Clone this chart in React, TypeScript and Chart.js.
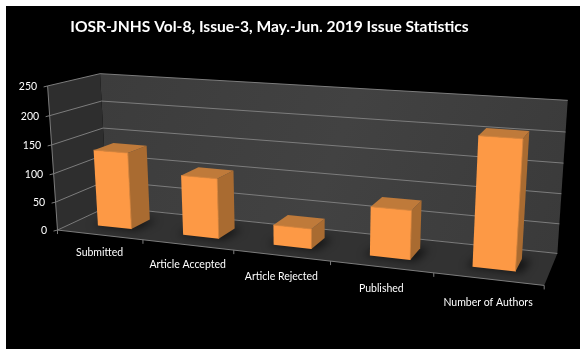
import React, { useEffect, useRef } from "react";
import { Chart, registerables } from "chart.js";

Chart.register(...registerables);

const categories = ["Submitted", "Article Accepted", "Article Rejected", "Published", "Number of Authors"];
const issueCounts = [135, 104, 34, 81, 207];
const titleText = "IOSR-JNHS Vol-8, Issue-3, May.-Jun. 2019 Issue Statistics";
const yMax = 250;
const yStep = 50;

// Camera calibration: box corner (across, up, depth) -> page pixel.
const boxCorners: number[][] = [
  [0, 0, 0, 57.3, 228],
  [1, 0, 0, 544.3, 287],
  [0, 1, 0, 47.7, 86.7],
  [0, 0, 1, 107.5, 209],
  [0, 1, 1, 100, 72.7],
  [1, 0, 1, 557.3, 251.7],
  [1, 1, 1, 567.7, 100.7],
];
const BAR_FRONT = 0.3;
const BAR_BACK = 0.7;

function solveCamera(pts: number[][]): number[] {
  const rows: number[][] = [];
  const rhs: number[] = [];
  for (const [u, v, w, px, py] of pts) {
    const x = px / 500;
    const y = py / 500;
    rows.push([u, v, w, 1, 0, 0, 0, 0, -x * u, -x * v, -x * w]);
    rhs.push(x);
    rows.push([0, 0, 0, 0, u, v, w, 1, -y * u, -y * v, -y * w]);
    rhs.push(y);
  }
  const n = 11;
  const A: number[][] = [];
  for (let i = 0; i < n; i++) {
    const row = new Array(n + 1).fill(0);
    for (let k = 0; k < rows.length; k++) {
      for (let j = 0; j < n; j++) row[j] += rows[k][i] * rows[k][j];
      row[n] += rows[k][i] * rhs[k];
    }
    row[i] += 1e-9;
    A.push(row);
  }
  for (let c = 0; c < n; c++) {
    let p = c;
    for (let r = c + 1; r < n; r++) if (Math.abs(A[r][c]) > Math.abs(A[p][c])) p = r;
    [A[c], A[p]] = [A[p], A[c]];
    for (let r = 0; r < n; r++) {
      if (r === c) continue;
      const f = A[r][c] / A[c][c];
      for (let j = c; j <= n; j++) A[r][j] -= f * A[c][j];
    }
  }
  return A.map((row, i) => row[n] / row[i]);
}

const cam = solveCamera(boxCorners);
function proj(u: number, v: number, w: number): [number, number] {
  const d = cam[8] * u + cam[9] * v + cam[10] * w + 1;
  return [
    (500 * (cam[0] * u + cam[1] * v + cam[2] * w + cam[3])) / d,
    (500 * (cam[4] * u + cam[5] * v + cam[6] * w + cam[7])) / d,
  ];
}

function quad(ctx: CanvasRenderingContext2D, pts: [number, number][], fill: string | CanvasGradient) {
  ctx.beginPath();
  pts.forEach((p, i) => (i ? ctx.lineTo(p[0], p[1]) : ctx.moveTo(p[0], p[1])));
  ctx.closePath();
  ctx.fillStyle = fill;
  ctx.fill();
}
function seg(ctx: CanvasRenderingContext2D, a: [number, number], b: [number, number]) {
  ctx.beginPath();
  ctx.moveTo(a[0], a[1]);
  ctx.lineTo(b[0], b[1]);
  ctx.stroke();
}

const box3d = {
  id: "box3d",
  beforeDraw(chart: any) {
    const { ctx, width, height } = chart;
    ctx.save();
    ctx.fillStyle = "#ffffff";
    ctx.fillRect(0, 0, width, height);
    ctx.fillStyle = "#000000";
    ctx.fillRect(6, 6, 574, 343);
    ctx.restore();
  },
  beforeDatasetDraw: () => false,
  afterDatasetsDraw(chart: any) {
    const { ctx, chartArea: area, scales } = chart;
    const toU = (px: number) => (px - area.left) / (area.right - area.left);
    const toV = (py: number) => (area.bottom - py) / (area.bottom - area.top);
    const yS = scales.y;
    const xS = scales.x;
    ctx.save();

    // walls and floor
    const back = ctx.createLinearGradient(100, 80, 560, 250);
    back.addColorStop(0, "#3c3c3c");
    back.addColorStop(0.5, "#424242");
    back.addColorStop(1, "#3a3a3a");
    quad(ctx, [proj(0, 0, 1), proj(0, 1, 1), proj(1, 1, 1), proj(1, 0, 1)], back);
    quad(ctx, [proj(0, 0, 0), proj(0, 1, 0), proj(0, 1, 1), proj(0, 0, 1)], "#2e2e2e");
    quad(ctx, [proj(0, 0, 0), proj(1, 0, 0), proj(1, 0, 1), proj(0, 0, 1)], "#323232");

    // gridlines and value labels from the y scale
    ctx.strokeStyle = "#7c7c7c";
    ctx.lineWidth = 1;
    ctx.font = "10.5px Lato";
    ctx.fillStyle = "#ffffff";
    ctx.textAlign = "right";
    ctx.textBaseline = "middle";
    for (const t of yS.ticks) {
      const v = toV(yS.getPixelForValue(t.value));
      const a = proj(0, v, 0);
      seg(ctx, [a[0] - 4, a[1] + 1], a);
      seg(ctx, a, proj(0, v, 1));
      seg(ctx, proj(0, v, 1), proj(1, v, 1));
      ctx.fillText(String(t.value), a[0] - 10.5, a[1] + 0.5);
    }
    seg(ctx, proj(0, 0, 0), proj(0, 1, 0));
    seg(ctx, proj(0, 0, 0), proj(1, 0, 0));

    // category ticks and labels from the x scale
    ctx.textAlign = "center";
    const n = categories.length;
    for (let i = 0; i <= n; i++) {
      const p = proj(i / n, 0, 0);
      seg(ctx, p, [p[0], p[1] + 4]);
    }
    categories.forEach((label, i) => {
      const p = proj(toU(xS.getPixelForValue(i)), 0, 0);
      ctx.fillText(label, p[0], p[1] + 18 + 1.3 * i);
    });

    // bars from the dataset's own elements
    const els = chart.getDatasetMeta(0).data;
    const floor = new Path2D();
    const f0 = proj(0, 0, 0), f1 = proj(1, 0, 0), f2 = proj(1, 0, 1), f3 = proj(0, 0, 1);
    floor.moveTo(f0[0], f0[1]);
    floor.lineTo(f1[0], f1[1]);
    floor.lineTo(f2[0], f2[1]);
    floor.lineTo(f3[0], f3[1]);
    floor.closePath();
    ctx.save();
    ctx.clip(floor);
    ctx.filter = "blur(4px)";
    for (const el of els) {
      const u0 = toU(el.x - el.width / 2);
      const u1 = toU(el.x + el.width / 2);
      quad(ctx, [proj(u0 - 0.012, 0, BAR_FRONT - 0.02), proj(u1 + 0.012, 0, BAR_FRONT - 0.02), proj(u1 + 0.018, 0, BAR_BACK), proj(u0, 0, BAR_BACK)], "rgba(0,0,0,0.6)");
    }
    ctx.restore();

    for (const el of els) {
      const u0 = toU(el.x - el.width / 2);
      const u1 = toU(el.x + el.width / 2);
      const vt = toV(el.y);
      const vb = toV(el.base);
      quad(ctx, [proj(u1, vb, BAR_FRONT), proj(u1, vt, BAR_FRONT), proj(u1, vt, BAR_BACK), proj(u1, vb, BAR_BACK)], "#a96b31");
      quad(ctx, [proj(u0, vt, BAR_FRONT), proj(u1, vt, BAR_FRONT), proj(u1, vt, BAR_BACK), proj(u0, vt, BAR_BACK)], "#bf7a3a");
      quad(ctx, [proj(u0, vb, BAR_FRONT), proj(u1, vb, BAR_FRONT), proj(u1, vt, BAR_FRONT), proj(u0, vt, BAR_FRONT)], "#fd9945");
      // soft bevel along the front face's upper and right edges
      ctx.strokeStyle = "rgba(222,138,62,0.8)";
      seg(ctx, proj(u0, vt, BAR_FRONT), proj(u1, vt, BAR_FRONT));
      seg(ctx, proj(u1, vb, BAR_FRONT), proj(u1, vt, BAR_FRONT));
    }
    ctx.restore();
  },
};

export default function App() {
  const ref = useRef<HTMLCanvasElement | null>(null);
  useEffect(() => {
    document.body.style.margin = "0";
    document.body.style.background = "#ffffff";
    const chart = new Chart(ref.current as HTMLCanvasElement, {
      type: "bar",
      data: {
        labels: categories,
        datasets: [{ data: issueCounts, backgroundColor: "#fd9945", barPercentage: 1, categoryPercentage: 0.4 }],
      },
      options: {
        animation: false,
        responsive: false,
        layout: { padding: { left: 0, right: 44, top: 0, bottom: 0 } },
        plugins: {
          legend: { display: false },
          tooltip: { enabled: false },
          title: {
            display: true,
            text: titleText,
            color: "#ffffff",
            font: { family: "Lato", size: 15.6, weight: "bold" },
            padding: { top: 18, bottom: 10 },
          },
        },
        scales: {
          x: { display: false },
          y: { display: false, min: 0, max: yMax, ticks: { stepSize: yStep } },
        },
      },
      plugins: [box3d],
    } as any);
    return () => chart.destroy();
  }, []);
  return <canvas ref={ref} width={583} height={352} style={{ display: "block" }} />;
}
